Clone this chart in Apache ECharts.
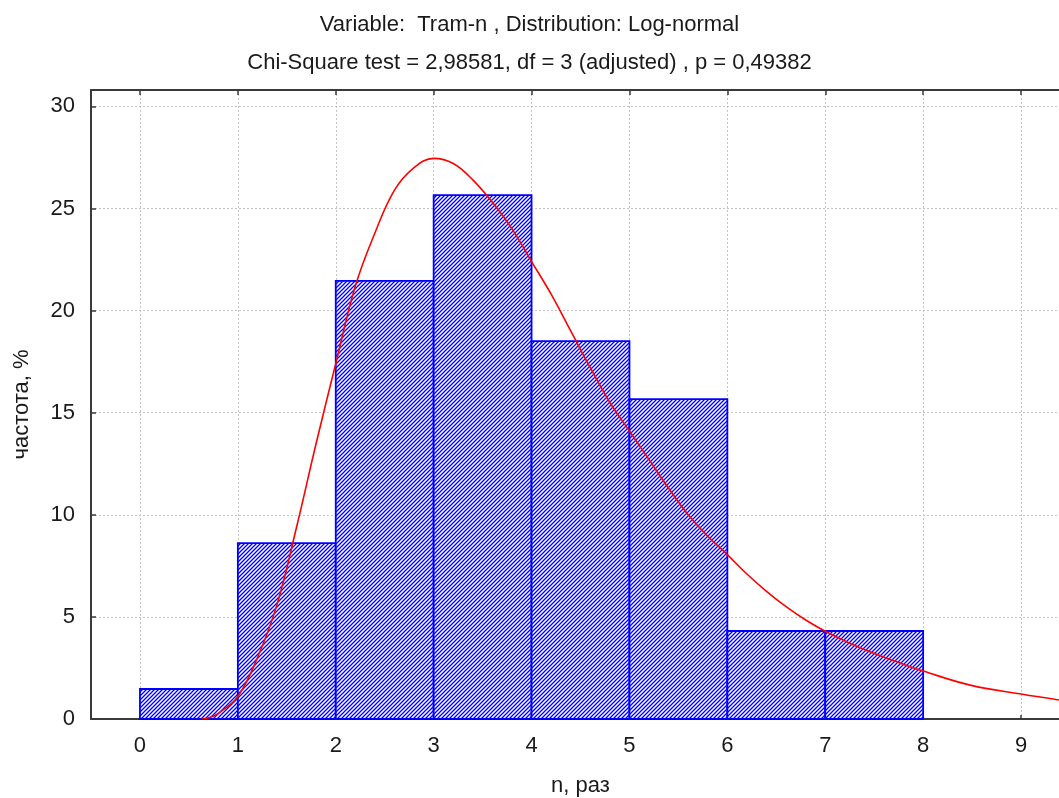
<!DOCTYPE html>
<html>
<head>
<meta charset="utf-8">
<script src="https://cdn.jsdelivr.net/npm/echarts@6/dist/echarts.min.js"></script>
<style>
html,body{margin:0;padding:0;background:#fff;}
#chart{width:1059px;height:798px;}
</style>
</head>
<body>
<div id="chart"></div>
<script>
// ---- data ----
const titleLine1 = 'Variable:  Tram-n , Distribution: Log-normal';
const titleLine2 = 'Chi-Square test = 2,98581, df = 3 (adjusted) , p = 0,49382';
const xAxisName = 'n, раз';
const yAxisName = 'частота, %';
const binStart = [0, 1, 2, 3, 4, 5, 6, 7];
const binEnd   = [1, 2, 3, 4, 5, 6, 7, 8];
const freq     = [1.47, 8.61, 21.45, 25.65, 18.5, 15.66, 4.31, 4.31];
const curveX = [0.63, 0.72, 0.82, 1.0, 1.2, 1.4, 1.6, 1.8, 2.0, 2.2, 2.4, 2.6, 2.8, 3.0, 3.2, 3.4, 3.6, 3.8, 4.0, 4.2, 4.4, 4.6, 4.8, 5.0, 5.2, 5.4, 5.6, 5.8, 6.0, 6.2, 6.4, 6.6, 6.8, 7.0, 7.35, 7.76, 8.0, 8.48, 9.0, 9.39, 9.5];
const curveY = [0, 0.08, 0.34, 1.1, 3.0, 5.6, 9.4, 13.5, 17.4, 21.2, 23.8, 25.9, 27.0, 27.45, 27.2, 26.4, 25.3, 24.0, 22.4, 20.8, 19.0, 17.2, 15.5, 14.1, 12.7, 11.3, 10.0, 8.95, 8.05, 7.1, 6.25, 5.5, 4.85, 4.3, 3.5, 2.75, 2.35, 1.66, 1.22, 0.93, 0.87];
const yTicks = [0, 5, 10, 15, 20, 25, 30];

// ---- hatch pattern ----
const tile = document.createElement('canvas');
tile.width = 4; tile.height = 4;
const tctx = tile.getContext('2d');
tctx.fillStyle = '#ffffff';
tctx.fillRect(0, 0, 4, 4);
tctx.strokeStyle = '#0000ff';
tctx.lineWidth = 1.3;
tctx.beginPath();
for (let o = -4; o <= 8; o += 4) {
  tctx.moveTo(o - 1, 5);
  tctx.lineTo(o + 5, -1);
}
tctx.stroke();
const hatch = { image: tile, repeat: 'repeat' };

const FONT = '"Liberation Sans", Arial, sans-serif';
const TXT = '#1a1a1a';
const FS = 22;

const chart = echarts.init(document.getElementById('chart'), null, { renderer: 'canvas' });
const intLabel = v => (Math.abs(v - Math.round(v)) < 1e-6 ? String(Math.round(v)) : '');
const yLabel = v => (yTicks.indexOf(Math.round(v * 1000) / 1000) >= 0 ? String(v) : '');

chart.setOption({
  animation: false,
  backgroundColor: '#ffffff',
  title: [
    { text: titleLine1, left: 'center', top: 9,
      textStyle: { fontFamily: FONT, fontSize: FS, fontWeight: 'normal', color: TXT } },
    { text: titleLine2, left: 'center', top: 47,
      textStyle: { fontFamily: FONT, fontSize: FS, fontWeight: 'normal', color: TXT } }
  ],
  grid: { left: 91, top: 90, width: 979, bottom: 79, containLabel: false, outerBoundsMode: 'none' },
  xAxis: [
    {
      type: 'value', min: -0.5, max: 9.5, splitNumber: 10, position: 'bottom',
      name: xAxisName, nameLocation: 'middle', nameGap: 56,
      nameTextStyle: { fontFamily: FONT, fontSize: FS, color: TXT },
      axisLine: { show: true, onZero: false, lineStyle: { color: '#3a3a3a', width: 2 } },
      axisTick: { show: true, inside: true, length: 4, lineStyle: { color: '#3a3a3a', width: 1.5 } },
      axisLabel: { formatter: intLabel, margin: 16, fontFamily: FONT, fontSize: FS, color: TXT, showMinLabel: true, showMaxLabel: true },
      splitLine: { show: true, lineStyle: { color: '#c4c4c4', type: [2, 2], width: 1 } }
    },
    {
      type: 'value', min: -0.5, max: 9.5, splitNumber: 10, position: 'top',
      axisLine: { show: true, onZero: false, lineStyle: { color: '#3a3a3a', width: 2 } },
      axisTick: { show: true, inside: true, length: 5, lineStyle: { color: '#3a3a3a', width: 1.5 } },
      axisLabel: { show: false },
      splitLine: { show: false }
    }
  ],
  yAxis: {
    type: 'value', min: 0, max: 30.8, interval: 5,
    name: yAxisName, nameLocation: 'middle', nameGap: 58, nameRotate: 90,
    nameTextStyle: { fontFamily: FONT, fontSize: FS, color: TXT },
    axisLine: { show: true, onZero: false, lineStyle: { color: '#3a3a3a', width: 2 } },
    axisTick: { show: true, inside: true, length: 5, lineStyle: { color: '#3a3a3a', width: 1.5 } },
    axisLabel: { formatter: yLabel, margin: 16, fontFamily: FONT, fontSize: FS, color: TXT },
    splitLine: { show: true, lineStyle: { color: '#c4c4c4', type: [2, 2], width: 1 } }
  },
  series: [
    {
      type: 'custom',
      xAxisIndex: 0, yAxisIndex: 0,
      data: binStart.map((s, i) => [s, binEnd[i], freq[i]]),
      renderItem: function (params, api) {
        const p0 = api.coord([api.value(0), api.value(2)]);
        const p1 = api.coord([api.value(1), 0]);
        return {
          type: 'rect',
          shape: { x: p0[0], y: p0[1], width: p1[0] - p0[0], height: p1[1] - p0[1] },
          style: { fill: hatch, stroke: '#0000ff', lineWidth: 1.8 }
        };
      },
      z: 2
    },
    {
      type: 'line',
      xAxisIndex: 0, yAxisIndex: 0,
      data: curveX.map((x, i) => [x, curveY[i]]),
      showSymbol: false,
      smooth: 0.4,
      lineStyle: { color: '#ff0000', width: 1.6 },
      z: 5
    }
  ]
});
</script>
</body>
</html>
